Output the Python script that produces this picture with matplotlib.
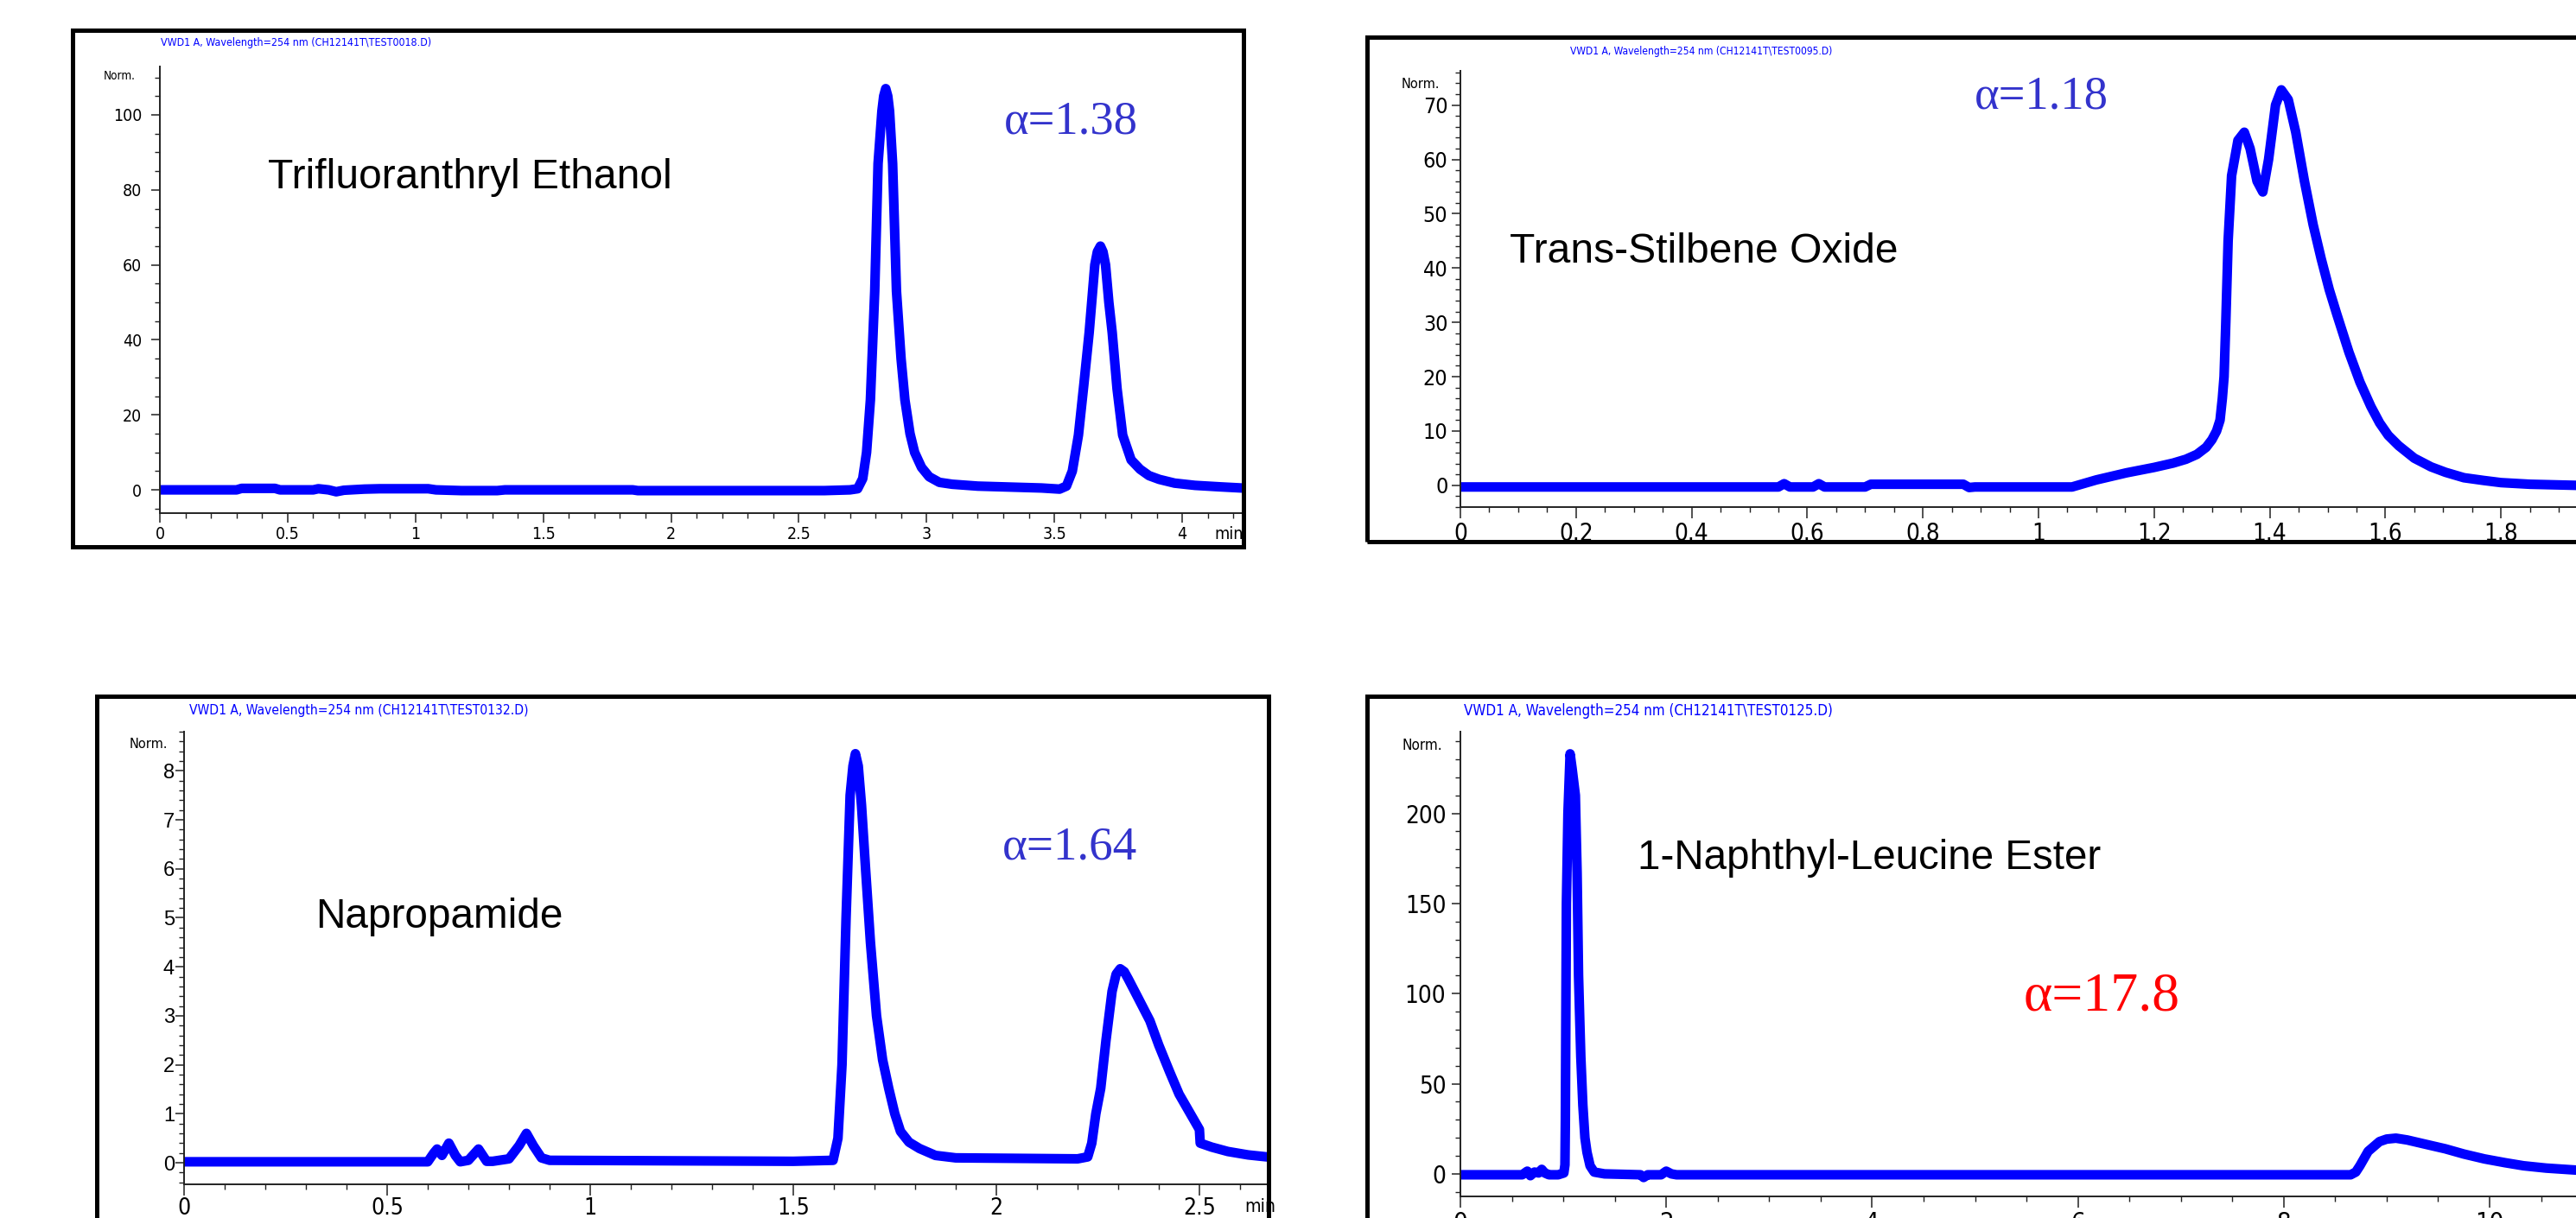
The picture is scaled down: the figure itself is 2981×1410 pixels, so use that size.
import matplotlib
matplotlib.use('Agg')
import matplotlib.pyplot as plt
from matplotlib import font_manager as fm
from matplotlib.font_manager import FontProperties
from matplotlib.patches import Rectangle
from matplotlib.ticker import FixedLocator, MultipleLocator

# ---------------- data ----------------
# Panel A: Trifluoranthryl Ethanol
tl_time = [0.00, 0.30, 0.32, 0.45, 0.47, 0.60, 0.62, 0.66, 0.69, 0.72, 0.80, 0.86, 1.05, 1.08,
           1.18, 1.32, 1.35, 1.85, 1.87, 2.60, 2.70, 2.73, 2.75, 2.765, 2.78, 2.797, 2.81, 2.825,
           2.832, 2.84, 2.848, 2.855, 2.867, 2.882, 2.90, 2.915, 2.935, 2.953, 2.98, 3.01, 3.05,
           3.10, 3.20, 3.30, 3.45, 3.52, 3.547, 3.57, 3.594, 3.615, 3.636, 3.658, 3.668, 3.68,
           3.69, 3.70, 3.713, 3.726, 3.745, 3.767, 3.80, 3.835, 3.87, 3.91, 3.97, 4.05, 4.15, 4.233]
tl_signal = [0.0, 0.0, 0.4, 0.4, 0.0, 0.0, 0.3, 0.0, -0.5, -0.1, 0.2, 0.3, 0.3, 0.0,
             -0.2, -0.2, 0.0, 0.0, -0.2, -0.2, 0.0, 0.3, 3.0, 10.0, 24.0, 53.0, 87.0, 101.0,
             105.0, 107.0, 105.0, 101.0, 87.0, 53.0, 35.0, 24.0, 15.0, 10.0, 6.0, 3.5, 2.0,
             1.5, 1.0, 0.8, 0.5, 0.2, 1.0, 5.0, 14.6, 28.0, 42.0, 60.0, 63.5, 65.0,
             63.5, 60.0, 50.0, 42.0, 27.0, 14.6, 8.0, 5.5, 3.8, 2.8, 1.8, 1.2, 0.8, 0.5]
tl_xticks = [0, 0.5, 1, 1.5, 2, 2.5, 3, 3.5, 4]
tl_xlabels = ['0', '0.5', '1', '1.5', '2', '2.5', '3', '3.5', '4']
tl_yticks = [0, 20, 40, 60, 80, 100]
tl_ylabels = ['0', '20', '40', '60', '80', '100']

# Panel B: Trans-Stilbene Oxide
tr_time = [0.00, 0.55, 0.56, 0.57, 0.61, 0.62, 0.63, 0.70, 0.71, 0.87, 0.88, 0.89, 1.00, 1.058,
           1.10, 1.152, 1.20, 1.233, 1.255, 1.274, 1.29, 1.30, 1.308, 1.314, 1.318, 1.321, 1.324,
           1.328, 1.334, 1.345, 1.356, 1.366, 1.378, 1.388, 1.398, 1.410, 1.420, 1.432, 1.445,
           1.460, 1.475, 1.489, 1.503, 1.516, 1.537, 1.556, 1.575, 1.59, 1.605, 1.623, 1.65,
           1.679, 1.704, 1.736, 1.77, 1.80, 1.85, 1.93, 2.05]
tr_signal = [-0.3, -0.3, 0.3, -0.3, -0.3, 0.3, -0.3, -0.3, 0.2, 0.2, -0.4, -0.3, -0.3, -0.3,
             1.0, 2.3, 3.3, 4.1, 4.8, 5.7, 7.0, 8.4, 10.0, 12.0, 16.0, 20.0, 30.0,
             45.0, 57.0, 63.5, 65.0, 62.0, 56.0, 54.0, 60.0, 70.0, 72.8, 71.0, 65.0,
             56.0, 48.0, 41.7, 36.0, 31.5, 24.5, 19.0, 14.5, 11.5, 9.2, 7.3, 5.0,
             3.4, 2.4, 1.4, 0.9, 0.5, 0.2, 0.0, 0.0]
tr_xticks = [0, 0.2, 0.4, 0.6, 0.8, 1, 1.2, 1.4, 1.6, 1.8, 2]
tr_xlabels = ['0', '0.2', '0.4', '0.6', '0.8', '1', '1.2', '1.4', '1.6', '1.8', '2']
tr_yticks = [0, 10, 20, 30, 40, 50, 60, 70]
tr_ylabels = ['0', '10', '20', '30', '40', '50', '60', '70']

# Panel C: Napropamide
bl_time = [0.00, 0.60, 0.615, 0.623, 0.635, 0.652, 0.668, 0.68, 0.70, 0.725, 0.745, 0.76, 0.80,
           0.825, 0.843, 0.86, 0.88, 0.90, 1.50, 1.598, 1.61, 1.62, 1.63, 1.64, 1.647, 1.653,
           1.66, 1.668, 1.678, 1.69, 1.705, 1.72, 1.735, 1.75, 1.764, 1.785, 1.811, 1.85, 1.90,
           2.20, 2.225, 2.235, 2.245, 2.257, 2.27, 2.285, 2.295, 2.305, 2.315, 2.325, 2.35, 2.378,
           2.40, 2.427, 2.45, 2.475, 2.50, 2.502, 2.53, 2.57, 2.62, 2.666]
bl_signal = [0.02, 0.02, 0.20, 0.28, 0.15, 0.40, 0.15, 0.02, 0.05, 0.28, 0.03, 0.03, 0.08,
             0.35, 0.60, 0.35, 0.10, 0.05, 0.03, 0.05, 0.5, 2.0, 5.0, 7.5, 8.1, 8.35,
             8.1, 7.3, 6.0, 4.5, 3.0, 2.1, 1.52, 1.0, 0.64, 0.42, 0.29, 0.15, 0.10,
             0.08, 0.12, 0.4, 1.0, 1.52, 2.5, 3.5, 3.85, 3.96, 3.9, 3.75, 3.35, 2.9,
             2.4, 1.85, 1.4, 1.04, 0.68, 0.40, 0.32, 0.23, 0.16, 0.12]
bl_xticks = [0, 0.5, 1, 1.5, 2, 2.5]
bl_xlabels = ['0', '0.5', '1', '1.5', '2', '2.5']
bl_yticks = [0, 1, 2, 3, 4, 5, 6, 7, 8]
bl_ylabels = ['0', '1', '2', '3', '4', '5', '6', '7', '8']

# Panel D: 1-Naphthyl-Leucine Ester
br_time = [0.00, 0.60, 0.65, 0.68, 0.72, 0.76, 0.79, 0.82, 0.86, 0.95, 1.005, 1.016, 1.020,
           1.024, 1.030, 1.045, 1.066, 1.085, 1.10, 1.117, 1.134, 1.148, 1.16, 1.17, 1.19, 1.21,
           1.23, 1.26, 1.30, 1.40, 1.75, 1.78, 1.82, 1.95, 2.00, 2.05, 2.10, 8.00, 8.65, 8.70,
           8.74, 8.82, 8.93, 9.00, 9.09, 9.20, 9.35, 9.57, 9.75, 9.95, 10.15, 10.33, 10.55, 10.84,
           11.5]
br_signal = [-0.5, -0.5, 1.5, -1.0, 1.0, 0.5, 2.5, 0.5, -0.5, -0.5, 0.5, 5.0, 30.0,
             80.0, 150.0, 200.0, 233.0, 225.0, 218.0, 210.0, 167.0, 110.0, 85.0, 65.0, 38.0, 20.0,
             12.0, 4.5, 1.0, 0.0, -0.5, -2.0, -0.5, -0.5, 1.5, 0.0, -0.5, -0.5, -0.5, 1.0,
             4.5, 12.5, 17.9, 19.3, 19.8, 18.8, 16.8, 13.9, 11.0, 8.3, 6.2, 4.5, 3.2, 2.1,
             1.0]
br_xticks = [0, 2, 4, 6, 8, 10]
br_xlabels = ['0', '2', '4', '6', '8', '10']
br_yticks = [0, 50, 100, 150, 200]
br_ylabels = ['0', '50', '100', '150', '200']

compounds = ['Trifluoranthryl Ethanol', 'Trans-Stilbene Oxide', 'Napropamide',
             '1-Naphthyl-Leucine Ester']
alphas = ['α=1.38', 'α=1.18', 'α=1.64', 'α=17.8']
headers = ['VWD1 A, Wavelength=254 nm (CH12141T\\TEST0018.D)',
           'VWD1 A, Wavelength=254 nm (CH12141T\\TEST0095.D)',
           'VWD1 A, Wavelength=254 nm (CH12141T\\TEST0132.D)',
           'VWD1 A, Wavelength=254 nm (CH12141T\\TEST0125.D)']

# ---------------- fonts ----------------
CONDENSED = ('condensed', 'semi-condensed', 'extra-condensed', 'ultra-condensed')


def _is_regular(f):
    w = f.weight
    try:
        w = int(w)
    except (TypeError, ValueError):
        w = 400 if str(w).lower() in ('normal', 'regular', 'book') else 700
    return f.style == 'normal' and 350 <= w <= 450


def pick_condensed():
    prefs = ['Liberation Sans Narrow', 'DejaVu Sans', 'Roboto Condensed', 'Open Sans',
             'Noto Sans', 'Roboto', 'Lato', 'Inter']
    cands = []
    for f in fm.fontManager.ttflist:
        if not _is_regular(f):
            continue
        narrow = ('Narrow' in f.name or 'Condensed' in f.name or str(f.stretch) in CONDENSED
                  or 'Condensed' in f.fname or 'Narrow' in f.fname)
        if not narrow or 'Mono' in f.name or 'Serif' in f.name:
            continue
        if 'Italic' in f.fname or 'Oblique' in f.fname or 'Bold' in f.fname:
            continue
        rank = next((i for i, p in enumerate(prefs) if f.name.startswith(p)), len(prefs))
        cands.append((rank, f.fname))
    if cands:
        cands.sort()
        return FontProperties(fname=cands[0][1]), 1.0
    return FontProperties(family='Liberation Sans'), 0.85


NPROP, NS = pick_condensed()
SANS = 'Liberation Sans'
SERIF = ['Liberation Serif', 'DejaVu Serif']
LINE = '#0000FF'

# ---------------- figure ----------------
W, H = 2981, 1410
fig = plt.figure(figsize=(W / 100, H / 100), dpi=100)
fig.patch.set_facecolor('white')
renderer = fig.canvas.get_renderer()


def px_axes(left, right, top, bottom):
    return fig.add_axes([left / W, 1 - bottom / H, (right - left) / W, (bottom - top) / H])


def fit_text(x, y, s, width, size, narrow=False, **kw):
    if narrow:
        kw['fontproperties'] = NPROP.copy()
    t = fig.text(x / W, 1 - y / H, s, ha='left', va='center', **kw)
    t.set_fontsize(size)
    w = t.get_window_extent(renderer).width
    t.set_fontsize(size * width / w)
    return t


def frame(left, right, top, bottom):
    fig.add_artist(Rectangle((left / W, 1 - bottom / H), (right - left) / W, (bottom - top) / H,
                             transform=fig.transFigure, fill=False, ec='black', lw=3.6,
                             zorder=1))


def style_labels(labels, size, narrow):
    for lab in labels:
        if narrow:
            lab.set_fontproperties(NPROP.copy())
        else:
            lab.set_family(SANS)
        lab.set_fontsize(size)


def setup(ax, t, v, xlim, ylim, xt, xl, yt, yl, xminor, yminor,
          xsize, ysize, xpad, ypad, ynarrow=True, xlen=8, ylen=7):
    ax.plot(t, v, color=LINE, lw=8, solid_joinstyle='round', solid_capstyle='round')
    ax.set_xlim(*xlim)
    ax.set_ylim(*ylim)
    ax.set_facecolor('none')
    for s in ('top', 'right'):
        ax.spines[s].set_visible(False)
    for s in ('left', 'bottom'):
        ax.spines[s].set_linewidth(1.4)
        ax.spines[s].set_color('#222222')
    ax.xaxis.set_major_locator(FixedLocator(xt))
    ax.set_xticklabels(xl)
    ax.yaxis.set_major_locator(FixedLocator(yt))
    ax.set_yticklabels(yl)
    ax.xaxis.set_minor_locator(MultipleLocator(xminor))
    ax.yaxis.set_minor_locator(MultipleLocator(yminor))
    ax.tick_params(axis='x', which='major', direction='out', length=xlen, width=1.1,
                   pad=xpad, color='#222222')
    ax.tick_params(axis='x', which='minor', direction='out', length=4.5, width=1.0,
                   color='#222222')
    ax.tick_params(axis='y', which='major', direction='out', length=ylen, width=1.1,
                   pad=ypad, color='#222222')
    ax.tick_params(axis='y', which='minor', direction='out', length=4.0, width=1.0,
                   color='#222222')
    style_labels(ax.get_xticklabels(), xsize * NS, True)
    style_labels(ax.get_yticklabels(), ysize * (NS if ynarrow else 1.0), ynarrow)


# Panel A (top-left)
frame(84, 1439, 35, 633)
axA = px_axes(185, 1437, 77, 594)
setup(axA, tl_time, tl_signal, (0, 4.233), (-6.2, 112.9), tl_xticks, tl_xlabels,
      tl_yticks, tl_ylabels, 0.1, 5, 14, 14, 3, 8)

# Panel B (top-right)
frame(1582, 3010, 43, 627)
axB = px_axes(1690, 1690 + 669 * 2.05, 82, 587)
setup(axB, tr_time, tr_signal, (0, 2.05), (-4.0, 76.3), tr_xticks, tr_xlabels,
      tr_yticks, tr_ylabels, 0.05, 2, 20, 18, 3.5, 3.5, xlen=9)

# Panel C (bottom-left)
frame(112, 1468, 806, 1440)
axC = px_axes(213, 1466, 847, 1371)
setup(axC, bl_time, bl_signal, (0, 2.666), (-0.44, 8.8), bl_xticks, bl_xlabels,
      bl_yticks, bl_ylabels, 0.1, 0.2, 19, 17, 1.0, 1, ynarrow=False, xlen=9.5)

# Panel D (bottom-right)
frame(1582, 3010, 806, 1440)
axD = px_axes(1690, 1690 + 119.1 * 11.5, 847, 1385)
setup(axD, br_time, br_signal, (0, 11.5), (-12.5, 245.3), br_xticks, br_xlabels,
      br_yticks, br_ylabels, 0.5, 10, 21, 20, 3, 5, xlen=9.5)

# ---------------- texts ----------------
fit_text(310, 205, compounds[0], 466, 34, family=SANS, color='black')
fit_text(1747, 291, compounds[1], 449, 34, family=SANS, color='black')
fit_text(365, 1061, compounds[2], 287, 34, family=SANS, color='black')
fit_text(1895, 994, compounds[3], 536, 34, family=SANS, color='black')

fit_text(1162, 141, alphas[0], 155, 38, family=SERIF, color='#3333CC')
fit_text(2285, 112, alphas[1], 155, 38, family=SERIF, color='#3333CC')
fit_text(1160, 981, alphas[2], 156, 38, family=SERIF, color='#3333CC')
fit_text(2342, 1154, alphas[3], 181, 42, family=SERIF, color='#FF0000')

fit_text(186, 49, headers[0], 314, 12, narrow=True, color='#0000FF')
fit_text(1817, 59, headers[1], 303, 12, narrow=True, color='#0000FF')
fit_text(219, 823, headers[2], 395, 14, narrow=True, color='#0000FF')
fit_text(1694, 823, headers[3], 429, 14, narrow=True, color='#0000FF')

fit_text(120, 88, 'Norm.', 37, 13, narrow=True, color='black')
fit_text(1622, 97, 'Norm.', 45, 16, narrow=True, color='black')
fit_text(150, 862, 'Norm.', 45, 16, narrow=True, color='black')
fit_text(1622, 863, 'Norm.', 47, 16, narrow=True, color='black')
fit_text(1405, 618, 'min', 34, 14, narrow=True, color='black')
fit_text(1440, 1397, 'min', 36, 18, narrow=True, color='black')

fig.savefig('out.png', dpi=100, facecolor='white')
